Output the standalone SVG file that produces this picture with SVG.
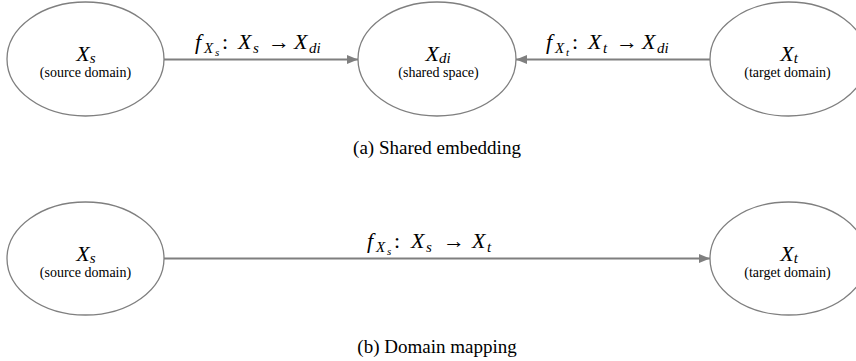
<svg xmlns="http://www.w3.org/2000/svg" width="856" height="361" viewBox="0 0 856 361">
<style>
.node ellipse{fill:#fff;stroke:#7f7f7f;stroke-width:1.3}
.edge{stroke:#7f7f7f;stroke-width:2;fill:none}
text{font-family:'Liberation Serif','Times New Roman','DejaVu Serif',serif;fill:#000}
.m{font-style:italic;font-size:22px}
.sub{font-size:15px}
.subsub{font-size:11px}
.up{font-style:normal}
.small{font-size:14px}
.cap{font-size:19px}
</style>
<defs>
<marker id="arr" markerUnits="userSpaceOnUse" markerWidth="12" markerHeight="10" refX="11" refY="5" orient="auto">
<path d="M0,0.5 L11,5 L0,9.5 Z" fill="#7f7f7f"/>
</marker>
</defs>
<rect width="856" height="361" fill="#fff"/>
<g id="connectors">
<line class="edge" x1="164" y1="59.5" x2="358" y2="59.5" marker-end="url(#arr)"/>
<line class="edge" x1="710" y1="59.5" x2="516" y2="59.5" marker-end="url(#arr)"/>
<line class="edge" x1="164" y1="258.5" x2="710" y2="258.5" marker-end="url(#arr)"/>
<text class="m"><tspan x="195" y="49">f</tspan><tspan class="sub" x="204" y="53">X</tspan><tspan class="subsub" x="215" y="56">s</tspan><tspan class="up" x="222" y="49">:</tspan><tspan x="238" y="49">X</tspan><tspan class="sub" x="253" y="53">s</tspan><tspan class="up" x="268" y="49">→</tspan><tspan x="294" y="49">X</tspan><tspan class="sub" x="309" y="53">di</tspan></text>
<text class="m"><tspan x="546" y="49">f</tspan><tspan class="sub" x="555" y="53">X</tspan><tspan class="subsub" x="566" y="56">t</tspan><tspan class="up" x="572" y="49">:</tspan><tspan x="588" y="49">X</tspan><tspan class="sub" x="603" y="53">t</tspan><tspan class="up" x="616" y="49">→</tspan><tspan x="642" y="49">X</tspan><tspan class="sub" x="657" y="53">di</tspan></text>
<text class="m"><tspan x="367" y="248">f</tspan><tspan class="sub" x="376" y="252">X</tspan><tspan class="subsub" x="387" y="255">s</tspan><tspan class="up" x="394" y="248">:</tspan><tspan x="411" y="248">X</tspan><tspan class="sub" x="426" y="252">s</tspan><tspan class="up" x="443" y="248">→</tspan><tspan x="472" y="248">X</tspan><tspan class="sub" x="487" y="252">t</tspan></text>
</g>
<g id="source-a" class="node">
<ellipse cx="85.5" cy="59" rx="78.5" ry="57"/>
<text class="m" x="86" y="61" text-anchor="middle">X<tspan class="sub" dy="2">s</tspan></text>
<text class="small" x="85.5" y="77" text-anchor="middle">(source domain)</text>
</g>
<g id="shared-a" class="node">
<ellipse cx="437" cy="59" rx="79" ry="57"/>
<text class="m" x="438" y="61" text-anchor="middle">X<tspan class="sub" dy="2">di</tspan></text>
<text class="small" x="438.5" y="77" text-anchor="middle">(shared space)</text>
</g>
<g id="target-a" class="node">
<ellipse cx="788.5" cy="59" rx="78.5" ry="57"/>
<text class="m" x="789" y="61" text-anchor="middle">X<tspan class="sub" dy="2">t</tspan></text>
<text class="small" x="787.5" y="77" text-anchor="middle">(target domain)</text>
</g>
<text class="cap" x="437" y="154" text-anchor="middle">(a) Shared embedding</text>
<g id="source-b" class="node">
<ellipse cx="85.5" cy="258.5" rx="78.5" ry="56.5"/>
<text class="m" x="86" y="260.5" text-anchor="middle">X<tspan class="sub" dy="2">s</tspan></text>
<text class="small" x="85.5" y="277" text-anchor="middle">(source domain)</text>
</g>
<g id="target-b" class="node">
<ellipse cx="788.5" cy="258.5" rx="78.5" ry="56.5"/>
<text class="m" x="789" y="260.5" text-anchor="middle">X<tspan class="sub" dy="2">t</tspan></text>
<text class="small" x="787.5" y="277" text-anchor="middle">(target domain)</text>
</g>
<text class="cap" x="437" y="353" text-anchor="middle">(b) Domain mapping</text>
</svg>
